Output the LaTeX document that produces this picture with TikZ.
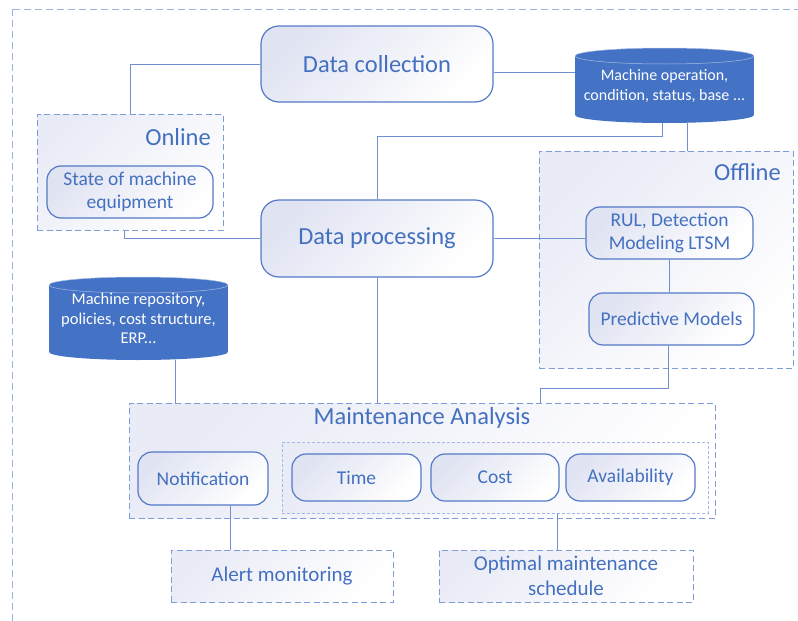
\documentclass[tikz,border=0pt]{standalone}
\usepackage{fontspec}
\setmainfont{Carlito}
\begin{document}
\begin{tikzpicture}[x=1pt,y=-1pt,
  procbox/.style={draw=boxline,line width=1.2pt,rounded corners=18pt,top color=boxshade,bottom color=white,
    shading angle=45,text=boxtext,inner sep=0pt,align=center,font=\fontsize{24.5}{28}\selectfont},
  stepbox/.style={procbox,rounded corners=14pt,font=\fontsize{19.5}{23.5}\selectfont},
  groupbox/.style={draw=dashline,line width=1pt,dash pattern=on 6pt off 3.5pt,top color=groupshade,bottom color=white,
    shading angle=45,text=boxtext,inner sep=0pt,align=center,font=\fontsize{21}{25}\selectfont},
  grouptitle/.style={text=boxtext,inner sep=0pt,font=\fontsize{24.5}{28}\selectfont},
  dbtext/.style={text=white,inner sep=0pt,align=center},
  link/.style={draw=linkline,line width=1pt}]
  \definecolor{boxline}{HTML}{5479C6}
  \definecolor{boxtext}{HTML}{4470C0}
  \definecolor{boxshade}{HTML}{E0E3F2}
  \definecolor{groupshade}{HTML}{E9EBF6}
  \definecolor{dashline}{HTML}{7E9DD6}
  \definecolor{linkline}{HTML}{6F8FD2}
  \definecolor{dbfill}{HTML}{4472C4}
  \definecolor{dbrim}{HTML}{A9BCE4}
  \useasboundingbox (0,0) rectangle (798,621);
  % outer frame
  \draw [dashline!80,line width=1pt,dash pattern=on 7pt off 4pt] (12,9) rectangle (815,640);
  % data bases
  \fill [dbfill] (575,56) rectangle (754,115);
  \fill [dbfill] (664.5,115) ellipse (89.5 and 8);
  \fill [dbfill] (664.5,56) ellipse (89.5 and 8);
  \draw [dbrim,line width=0.5pt] (664.5,56) ellipse (89.5 and 8);
  \fill [dbfill] (49,285) rectangle (228,352);
  \fill [dbfill] (138.5,352) ellipse (89.5 and 8);
  \fill [dbfill] (138.5,285) ellipse (89.5 and 8);
  \draw [dbrim,line width=0.5pt] (138.5,285) ellipse (89.5 and 8);
  \node [dbtext,minimum width=179pt,minimum height=75pt,font=\fontsize{16}{20}\selectfont] (db1) at (664.5,85.5)
    {Machine operation,\\condition, status, base ...};
  \node [dbtext,minimum width=179pt,minimum height=83pt,font=\fontsize{16.5}{19.5}\selectfont] (db2) at (138.5,318.5)
    {Machine repository,\\policies, cost structure,\\ERP...};
  % groups
  \node [groupbox,minimum width=186pt,minimum height=116pt] (online) at (130,172) {};
  \node [grouptitle,anchor=east] (onlinetitle) at (211,137) {Online};
  \node [groupbox,minimum width=254pt,minimum height=217pt] (offline) at (666,259.5) {};
  \node [grouptitle,anchor=east] (offlinetitle) at (781,172) {Offline};
  \node [groupbox,minimum width=586pt,minimum height=115pt] (ma) at (422,460.5) {};
  \node [grouptitle] (matitle) at (422,418) {Maintenance Analysis};
  \node [groupbox,draw=dashline!70,line width=0.7pt,dash pattern=on 3pt off 2pt,minimum width=426pt,minimum height=71pt] (crit) at (495,477.5) {};
  % main steps
  \node [procbox,minimum width=232pt,minimum height=76pt] (dc) at (377,64) {Data collection};
  \node [procbox,minimum width=232pt,minimum height=77pt] (dp) at (377,238.5) {Data processing};
  \node [stepbox,minimum width=166pt,minimum height=52pt] (state) at (130,192) {State of machine\\equipment};
  \node [stepbox,minimum width=167pt,minimum height=52pt] (rul) at (669.5,233) {RUL, Detection\\Modeling LTSM};
  \node [stepbox,minimum width=165pt,minimum height=52pt] (pm) at (671.5,319) {Predictive Models};
  \node [stepbox,minimum width=130pt,minimum height=53pt] (notif) at (203,478.5) {Notification};
  \node [stepbox,minimum width=129pt,minimum height=47pt] (time) at (356.5,477.5) {Time};
  \node [stepbox,minimum width=128pt,minimum height=47pt] (cost) at (495,477.5) {Cost};
  \node [stepbox,minimum width=129pt,minimum height=47pt] (avail) at (630.5,477.5) {Availability};
  \node [groupbox,minimum width=222pt,minimum height=52pt] (alert) at (282,576) {Alert monitoring};
  \node [groupbox,minimum width=254pt,minimum height=52pt] (opt) at (566,576) {Optimal maintenance\\schedule};
  % links
  \draw [link] (dc.west) -| (online.north);
  \draw [link] ([xshift=-6pt]online.south) |- (dp.west);
  \draw [link] ([yshift=-8pt]dc.east) -- ([yshift=-8pt]dc.east -| db1.west);
  \draw [link] ([xshift=-2.5pt]db1.south) -- ++(0,13) -| (dp.north);
  \draw [link] ([xshift=22.5pt]db1.south) -- ([xshift=22.5pt]db1.south |- offline.north);
  \draw [link] (dp.east) -- (dp.east -| rul.west);
  \draw [link] (rul.south) -- (rul.south |- pm.north);
  \draw [link] ([xshift=-3.5pt]pm.south) -- ++(0,43) -| ([xshift=118pt]ma.north);
  \draw [link] (dp.south) -- (dp.south |- ma.north);
  \draw [link] ([xshift=36.5pt]db2.south) -- ([xshift=36.5pt]db2.south |- ma.north);
  \draw [link] ([xshift=27pt]notif.south) -- ([xshift=27pt]notif.south |- alert.north);
  \draw [link] ([xshift=62pt]crit.south) -- ([xshift=62pt]crit.south |- opt.north);
\end{tikzpicture}
\end{document}
